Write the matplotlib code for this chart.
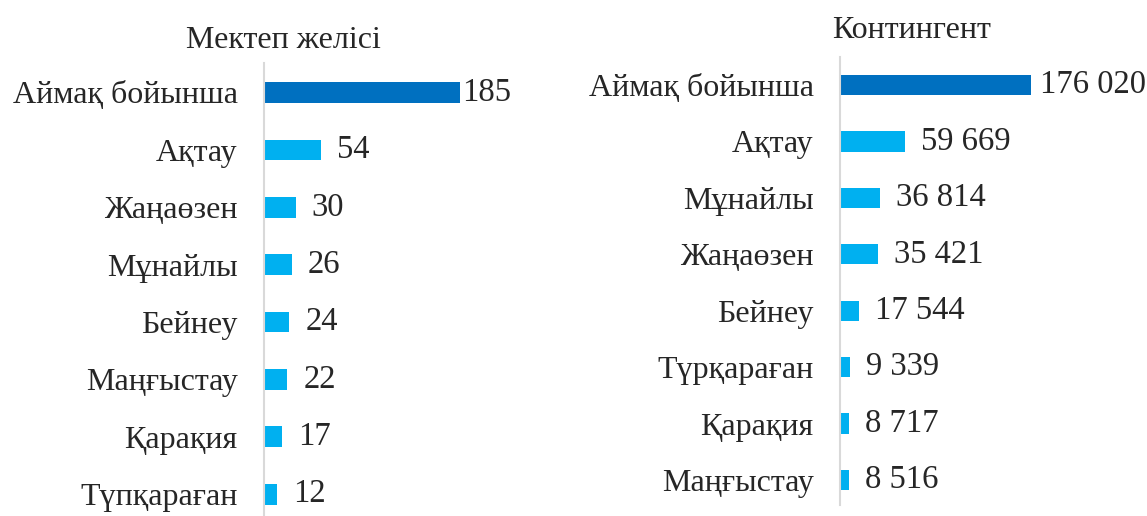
import numpy as np
import matplotlib.pyplot as plt

plt.rcParams['font.family'] = ['Liberation Serif', 'DejaVu Serif']

# Мектеп желісі
schools_labels = ["Аймақ бойынша", "Ақтау", "Жаңаөзен", "Мұнайлы", "Бейнеу",
                  "Маңғыстау", "Қарақия", "Түпқараған"]
schools_values = [185, 54, 30, 26, 24, 22, 17, 12]

# Контингент
pupils_labels = ["Аймақ бойынша", "Ақтау", "Мұнайлы", "Жаңаөзен", "Бейнеу",
                 "Түрқараған", "Қарақия", "Маңғыстау"]
pupils_values = [176020, 59669, 36814, 35421, 17544, 9339, 8717, 8516]

DARK = "#0070C0"
LIGHT = "#00B0F0"
TXT = "#262626"
W, H = 1147, 516

fig = plt.figure(figsize=(W / 100, H / 100), dpi=100)


def px_axes(x0, y0, x1, y1):
    # pixel box (top-left origin) -> figure axes
    return fig.add_axes([x0 / W, 1 - y1 / H, (x1 - x0) / W, (y1 - y0) / H])


def draw(ax, labels, values, fmt, first_off, off):
    y = np.arange(len(values))
    colors = [DARK] + [LIGHT] * (len(values) - 1)
    ax.barh(y, values, height=0.36, color=colors)
    ax.set_yticks(y)
    ax.set_yticklabels(labels, fontsize=23, color=TXT)
    ax.tick_params(axis='y', length=0, pad=19)
    ax.set_xticks([])
    for s in ['top', 'right', 'bottom']:
        ax.spines[s].set_visible(False)
    ax.spines['left'].set_color("#d9d9d9")
    ax.spines['left'].set_linewidth(1.5)
    for i, v in enumerate(values):
        ax.annotate(fmt(v), (v, i), xytext=(first_off if i == 0 else off, 0),
                    textcoords='offset pixels', va='center', ha='left',
                    fontsize=23.5, color=TXT)


ax1 = px_axes(264, 63, 530, 516)
draw(ax1, schools_labels, schools_values, lambda v: str(v), 2, 16)
ax1.set_xlim(0, 266 / 1.06)
ax1.set_ylim(7.38, -0.514)

ax2 = px_axes(840, 57, 1100, 505)
draw(ax2, pupils_labels, pupils_values,
     lambda v: f"{v:,}".replace(",", " "), 9, 16)
ax2.set_xlim(0, 260 / 191 * 176020)
ax2.set_ylim(7.443, -0.496)

fig.text(283 / W, 1 - 41 / H, "Мектеп желісі", ha='center', va='center',
         fontsize=23, color=TXT)
fig.text(912 / W, 1 - 30 / H, "Контингент", ha='center', va='center',
         fontsize=23, color=TXT)

fig.savefig("out.png", dpi=100)
